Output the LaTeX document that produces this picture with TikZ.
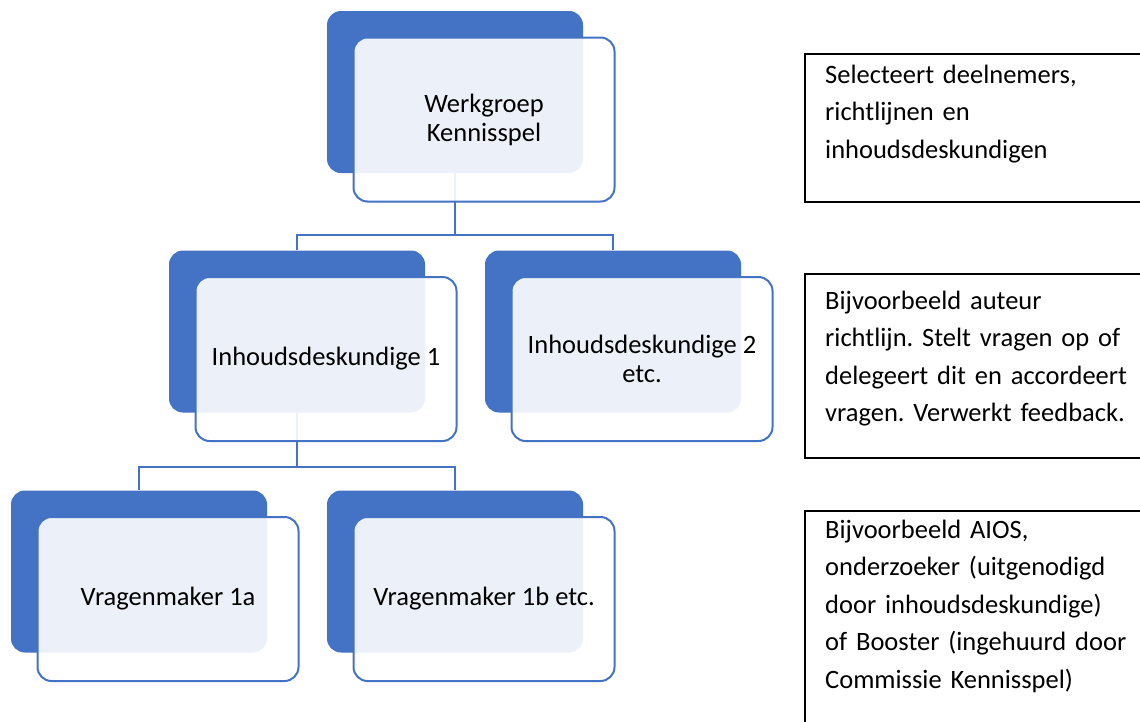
\documentclass[tikz,border=0pt]{standalone}
\usepackage{fontspec}
\setmainfont{Carlito}
\usetikzlibrary{positioning}
\definecolor{ofblue}{HTML}{4472C4}

\begin{document}
\begin{tikzpicture}[x=1pt,y=-1pt,
    back/.style={fill=ofblue,rounded corners=14pt,minimum width=256pt,minimum height=162pt,inner sep=0pt},
    front/.style={draw=ofblue,line width=2pt,fill=white,fill opacity=0.9,text opacity=1,rounded corners=14pt,
        minimum width=261pt,minimum height=164pt,align=center,inner sep=0pt,font=\fontsize{26.5}{29}\selectfont},
    link/.style={draw=ofblue,line width=2.2pt},
    notebox/.style={draw=black,line width=1.5pt,anchor=north west,minimum width=346pt,inner sep=0pt},
    note/.style={anchor=base west,text width=330pt,align=left,inner sep=0pt,
        font=\fontsize{26.5}{37.5}\selectfont\frenchspacing}]
    \clip (0,0) rectangle (1140,721);

    % back shapes
    \node[back] (w) at (455,92) {};
    \node[back] (i1) at (297,331.5) {};
    \node[back] (i2) at (613,331.5) {};
    \node[back] (v1) at (139,571.5) {};
    \node[back] (v2) at (455,571.5) {};

    % connectors
    \draw[link] (w.south) -- ++(0,62) -| (i1.north);
    \draw[link] (w.south) -- ++(0,62) -| (i2.north);
    \draw[link] (i1.south) -- ++(0,54) -| (v1.north);
    \draw[link] (i1.south) -- ++(0,54) -| (v2.north);

    % front shapes with labels
    \node[front] (wf) at ([shift={(29,27.5)}]w) {Werkgroep\\Kennisspel};
    \node[front] (i1f) at ([shift={(29,27.5)}]i1) {Inhoudsdeskundige 1};
    \node[front] (i2f) at ([shift={(29,27.5)}]i2) {Inhoudsdeskundige 2\\etc.};
    \node[front] (v1f) at ([shift={(29,27.5)}]v1) {Vragenmaker 1a};
    \node[front] (v2f) at ([shift={(29,27.5)}]v2) {Vragenmaker 1b etc.};

    % notes on the right
    \node[notebox,minimum height=148pt] (n1) at (804,53) {};
    \node[notebox,minimum height=184pt] (n2) at (804,273) {};
    \node[notebox,minimum height=240pt] (n3) at (804,510) {};
    \node[note] (t1) at ([shift={(21,30)}]n1.north west) {Selecteert deelnemers,\\richtlijnen en\\inhoudsdeskundigen};
    \node[note] (t2) at ([shift={(21,36)}]n2.north west) {Bijvoorbeeld auteur\\richtlijn. Stelt vragen op of\\delegeert dit en accordeert\\vragen. Verwerkt feedback.};
    \node[note] (t3) at ([shift={(21,28)}]n3.north west) {Bijvoorbeeld AIOS,\\onderzoeker (uitgenodigd\\door inhoudsdeskundige)\\of Booster (ingehuurd door\\Commissie Kennisspel)};
\end{tikzpicture}
\end{document}
